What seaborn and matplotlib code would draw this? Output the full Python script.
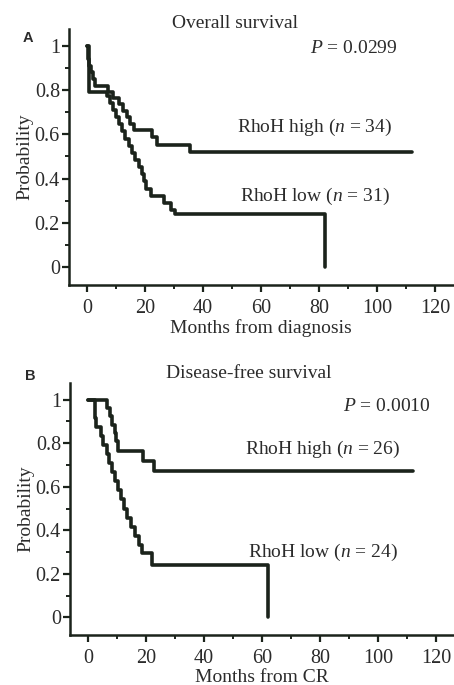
import matplotlib
matplotlib.use("Agg")
import matplotlib.pyplot as plt
from matplotlib.ticker import MultipleLocator
import seaborn as sns
import pandas as pd

# ---- data ----
os_high_t = [0, 0.4, 0.8, 1.3, 2.0, 2.8, 7.3, 9.0, 11.0, 12.5, 13.8, 14.8, 16.3, 22.5, 24.0, 35.5, 112]
os_high_s = [1.0, 0.94, 0.91, 0.88, 0.85, 0.82, 0.79, 0.765, 0.735, 0.706, 0.676, 0.647, 0.618, 0.588, 0.552, 0.52, 0.52]

os_low_t = [0, 0.6, 7.0, 8.0, 9.0, 10.0, 11.0, 12.0, 13.0, 14.5, 15.5, 16.5, 18.0, 19.0, 19.8, 20.5, 22.0, 26.5, 29.0, 30.5, 82.0]
os_low_s = [1.0, 0.79, 0.774, 0.742, 0.71, 0.677, 0.645, 0.613, 0.581, 0.548, 0.516, 0.484, 0.452, 0.419, 0.387, 0.355, 0.323, 0.29, 0.258, 0.24, 0.0]

dfs_high_t = [0, 6.6, 7.6, 8.4, 9.2, 9.8, 10.3, 19.0, 22.8, 112]
dfs_high_s = [1.0, 0.962, 0.923, 0.885, 0.846, 0.808, 0.762, 0.72, 0.673, 0.673]

dfs_low_t = [0, 2.6, 2.9, 4.6, 5.2, 6.6, 7.3, 8.4, 9.5, 10.5, 11.3, 12.5, 13.6, 15.0, 16.2, 17.6, 18.8, 22.2, 62.0]
dfs_low_s = [1.0, 0.917, 0.875, 0.833, 0.792, 0.75, 0.708, 0.667, 0.625, 0.583, 0.542, 0.5, 0.458, 0.417, 0.375, 0.333, 0.297, 0.24, 0.0]

panel_letters = ["A", "B"]
titles = ["Overall survival", "Disease-free survival"]
xlabels = ["Months from diagnosis", "Months from CR"]
p_texts = ["$P$ = 0.0299", "$P$ = 0.0010"]
high_labels = ["RhoH high ($n$ = 34)", "RhoH high ($n$ = 26)"]
low_labels = ["RhoH low ($n$ = 31)", "RhoH low ($n$ = 24)"]
x_ticks = [0, 20, 40, 60, 80, 100, 120]
y_ticks = [0, 0.2, 0.4, 0.6, 0.8, 1]
y_ticklabels = ["0", "0.2", "0.4", "0.6", "0.8", "1"]

sns.set_theme(style="ticks")
plt.rcParams["font.family"] = ["Liberation Serif", "DejaVu Serif"]
plt.rcParams["mathtext.fontset"] = "custom"
plt.rcParams["mathtext.it"] = "Liberation Serif:italic"
plt.rcParams["mathtext.rm"] = "Liberation Serif"

INK = "#1b231b"
TXT = "#2b2b2b"
FS = 14
TFS = 14.5

fig = plt.figure(figsize=(4.54, 6.85), dpi=100)
axA = fig.add_axes([0.152, 0.584, 0.846, 0.374])
axB = fig.add_axes([0.154, 0.073, 0.846, 0.368])

def make_df(t, s, grp):
    return pd.DataFrame({"t": t, "s": s, "g": grp})

panels = [
    (axA, os_high_t, os_high_s, os_low_t, os_low_s),
    (axB, dfs_high_t, dfs_high_s, dfs_low_t, dfs_low_s),
]
p_pos = [(92, 0.99), (103, 0.97)]
hi_pos = [(78.5, 0.63), (81, 0.77)]
lo_pos = [(78.5, 0.32), (81, 0.30)]
letter_pos = [(28 / 454, 1 - 38 / 685), (30 / 454, 1 - 376 / 685)]
title_pos = [(235 / 454, 1 - 23 / 685), (249 / 454, 1 - 373 / 685)]

for i, (ax, ht, hs, lt, ls) in enumerate(panels):
    df = pd.concat([make_df(ht, hs, "high"), make_df(lt, ls, "low")])
    sns.lineplot(data=df, x="t", y="s", units="g", estimator=None, sort=False,
                 drawstyle="steps-post", color=INK, linewidth=2.6, ax=ax, legend=False)
    ax.set_xlim(-6.2, 126.2)
    ax.set_ylim(-0.081, 1.077)
    ax.set_xticks(x_ticks)
    ax.set_yticks(y_ticks)
    ax.set_yticklabels(y_ticklabels)
    ax.xaxis.set_minor_locator(MultipleLocator(10))
    ax.yaxis.set_minor_locator(MultipleLocator(0.1))
    ax.tick_params(which="major", length=5, width=1.6, colors=INK, labelcolor=TXT,
                   labelsize=TFS, direction="out")
    ax.tick_params(axis="y", which="major", pad=1.5)
    ax.tick_params(axis="x", which="major", pad=5)
    ax.tick_params(which="minor", length=3, width=1.4, colors=INK, direction="out")
    for sp in ["top", "right"]:
        ax.spines[sp].set_visible(False)
    for sp in ["left", "bottom"]:
        ax.spines[sp].set_linewidth(1.8)
        ax.spines[sp].set_color(INK)
    ax.set_xlabel(xlabels[i], fontsize=FS, color=TXT, labelpad=1)
    ax.set_ylabel("Probability", fontsize=FS, color=TXT, labelpad=1)
    ax.text(*p_pos[i], p_texts[i], ha="center", va="center", fontsize=FS, color=TXT)
    ax.text(*hi_pos[i], high_labels[i], ha="center", va="center", fontsize=FS, color=TXT)
    ax.text(*lo_pos[i], low_labels[i], ha="center", va="center", fontsize=FS, color=TXT)
    fig.text(*letter_pos[i], panel_letters[i], ha="center", va="center", fontsize=10.5,
             fontweight="bold", family=["Liberation Sans", "DejaVu Sans"], color=TXT)
    fig.text(*title_pos[i], titles[i], ha="center", va="center", fontsize=FS, color=TXT)

fig.savefig("out.png", dpi=100)
